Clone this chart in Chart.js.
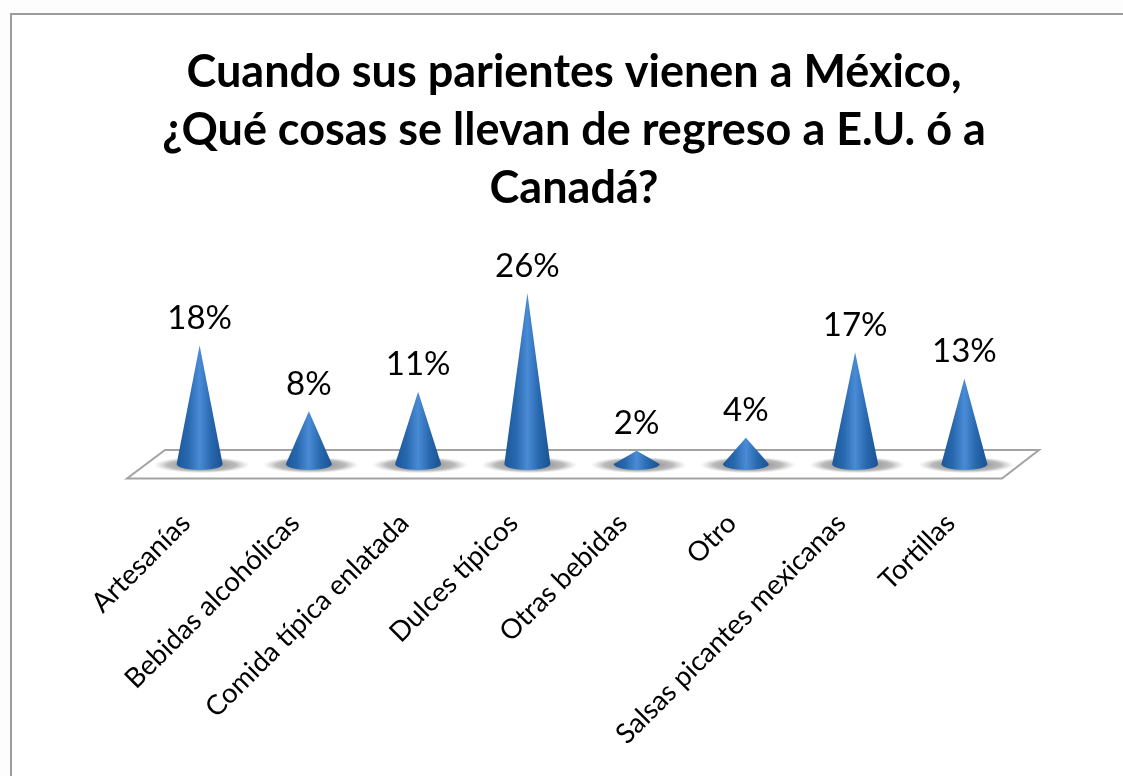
<!DOCTYPE html>
<html lang="es">
<head>
<meta charset="utf-8">
<title>Cosas que se llevan de regreso</title>
<script src="https://cdn.jsdelivr.net/npm/chart.js@4"></script>
<style>
    html, body { margin: 0; height: 100%; overflow: hidden; background: #fdfdfd; }
    #frame {
        position: absolute; left: 10px; top: 13px; right: -20px; bottom: -20px;
        background: #fff; border: 2px solid #9c9c9c; overflow: hidden;
    }
    #chart { position: absolute; left: 0; top: 0; }
</style>
</head>
<body>
<div id="frame"><canvas id="chart" width="1124" height="761"></canvas></div>
<script>
const categories = [
    'Artesanías', 'Bebidas alcohólicas', 'Comida típica enlatada', 'Dulces típicos',
    'Otras bebidas', 'Otro', 'Salsas picantes mexicanas', 'Tortillas'
];
const percentages = [18, 8, 11, 26, 2, 4, 17, 13];
const titleLines = [
    'Cuando sus parientes vienen a México,',
    '¿Qué cosas se llevan de regreso a E.U. ó a',
    'Canadá?'
];

const { BarController, BarElement } = Chart;

// Barra en forma de cono: punta en el valor, base elíptica sobre el eje
class ConeElement extends BarElement {
    draw(ctx) {
        const { x, y, base, width } = this.getProps(['x', 'y', 'base', 'width']);
        const r = width / 2;
        const ry = 6;

        // sombra sobre el piso
        ctx.save();
        ctx.translate(x + 2, base + 1);
        ctx.scale(1, 0.17);
        const shadow = ctx.createRadialGradient(0, 0, 14, 0, 0, 48);
        shadow.addColorStop(0, 'rgba(110,110,110,0.75)');
        shadow.addColorStop(0.6, 'rgba(140,140,140,0.6)');
        shadow.addColorStop(1, 'rgba(180,180,180,0)');
        ctx.fillStyle = shadow;
        ctx.beginPath();
        ctx.arc(0, 0, 48, 0, Math.PI * 2);
        ctx.fill();
        ctx.restore();

        const grad = ctx.createLinearGradient(x - r, 0, x + r, 0);
        grad.addColorStop(0, '#1d5899');
        grad.addColorStop(0.25, '#2768ae');
        grad.addColorStop(0.5, '#4a8bd6');
        grad.addColorStop(0.75, '#2768ae');
        grad.addColorStop(1, '#1b5292');
        ctx.fillStyle = grad;
        ctx.beginPath();
        ctx.moveTo(x, y);
        ctx.lineTo(x + r, base);
        ctx.ellipse(x, base, r, ry, 0, 0, Math.PI);
        ctx.closePath();
        ctx.fill();
    }
}
ConeElement.id = 'cone';
ConeElement.defaults = BarElement.defaults;

class ConeController extends BarController {}
ConeController.id = 'cone';
ConeController.defaults = { ...BarController.defaults, dataElementType: 'cone' };
ConeController.overrides = BarController.overrides;

Chart.register(ConeElement, ConeController);

// El título va centrado en el marco, no en el área de los conos
const titleShift = {
    id: 'titleShift',
    afterLayout(chart) {
        chart.titleBlock.left -= 8;
        chart.titleBlock.right -= 8;
    }
};

// Piso en perspectiva debajo de los conos
const floorPlugin = {
    id: 'floor',
    beforeDatasetsDraw(chart) {
        const { ctx } = chart;
        const { left, right } = chart.chartArea;
        const y0 = chart.scales.y.getPixelForValue(0);
        ctx.save();
        ctx.beginPath();
        ctx.moveTo(left - 18, y0 + 14.5);
        ctx.lineTo(right - 17, y0 + 14.5);
        ctx.lineTo(right + 20, y0 - 14);
        ctx.lineTo(left + 20, y0 - 14);
        ctx.closePath();
        ctx.fillStyle = '#fff';
        ctx.fill();
        ctx.strokeStyle = '#a3a3a3';
        ctx.lineWidth = 2;
        ctx.stroke();
        ctx.restore();
    }
};

// Etiqueta de porcentaje encima de cada punta
const valueLabels = {
    id: 'valueLabels',
    afterDatasetsDraw(chart) {
        const { ctx } = chart;
        ctx.save();
        ctx.font = '33px Lato';
        ctx.fillStyle = '#000';
        ctx.textAlign = 'center';
        ctx.textBaseline = 'middle';
        chart.getDatasetMeta(0).data.forEach((el, i) => {
            ctx.fillText(percentages[i] + '%', el.x, el.y - 27);
        });
        ctx.restore();
    }
};

new Chart(document.getElementById('chart'), {
    type: 'cone',
    data: {
        labels: categories,
        datasets: [{ data: percentages, barThickness: 46, clip: false }]
    },
    options: {
        responsive: false,
        animation: false,
        layout: { padding: { left: 133, right: 117, top: 0, bottom: 0 } },
        plugins: {
            legend: { display: false },
            tooltip: { enabled: false },
            title: {
                display: true,
                text: titleLines,
                color: '#000',
                font: { family: 'Lato', size: 45, weight: 'bold', lineHeight: 1.29 },
                padding: { top: 28, bottom: 10 }
            }
        },
        scales: {
            x: {
                grid: { display: false, drawTicks: false },
                border: { display: false },
                afterFit(scale) { scale.height = 312; scale.paddingLeft = 0; scale.paddingRight = 0; },
                ticks: {
                    color: '#000',
                    font: { family: 'Lato', size: 27.5 },
                    minRotation: 45,
                    maxRotation: 45,
                    autoSkip: false,
                    padding: 43,
                    labelOffset: -14
                }
            },
            y: { display: false, min: 0, max: 36 }
        }
    },
    plugins: [titleShift, floorPlugin, valueLabels]
});
</script>
</body>
</html>
